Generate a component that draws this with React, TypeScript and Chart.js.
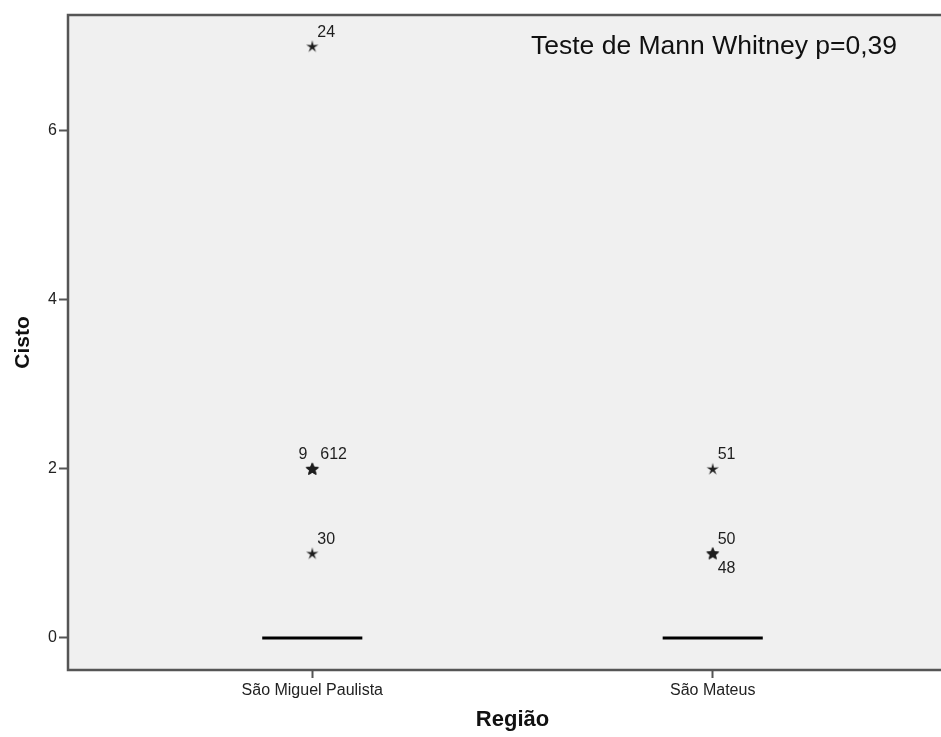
import React, { useEffect, useRef } from 'react';
import { Chart, registerables } from 'chart.js';

Chart.register(...registerables);

// ---- data ----
const categories = ['São Miguel Paulista', 'São Mateus'];
const medians = [0, 0];
const yTicks = [0, 2, 4, 6];
// extreme values: category position, value, case number
const outlierGroup = [1, 1, 1, 1, 1, 2, 2, 2];
const outlierValue = [7, 2, 2, 2, 1, 2, 1, 1];
const outlierCase = ['24', '6', '9', '12', '30', '51', '50', '48'];
const testNote = 'Teste de Mann Whitney p=0,39';
const yTitle = 'Cisto';
const xTitle = 'Região';

// ---- presentation ----
const FONT = 'Arial, "Liberation Sans", sans-serif';
const FRAME = '#555555';
const INK = '#1e1e1e';
// side of the star where each case number is written
const labelSide: Record<string, 'up' | 'left' | 'down'> = {
  '24': 'up', '6': 'up', '9': 'left', '12': 'up', '30': 'up', '51': 'up', '50': 'up', '48': 'down',
};

function makeStar(outer: number, inner: number): HTMLCanvasElement {
  const size = 16;
  const c = document.createElement('canvas');
  c.width = size;
  c.height = size;
  const g = c.getContext('2d')!;
  g.translate(size / 2, size / 2 + 0.5);
  g.beginPath();
  for (let i = 0; i < 10; i++) {
    const r = i % 2 === 0 ? outer : inner;
    const a = -Math.PI / 2 + (i * Math.PI) / 5;
    g.lineTo(r * Math.cos(a), r * Math.sin(a));
  }
  g.closePath();
  g.fillStyle = INK;
  g.fill();
  return c;
}

function stackKey(i: number) {
  return outlierGroup[i] + ':' + outlierValue[i];
}

export default function App() {
  const ref = useRef<HTMLCanvasElement>(null);

  useEffect(() => {
    if (!ref.current) return;
    const star = makeStar(6.4, 2.1);
    const boldStar = makeStar(6.8, 3.0);
    const stackCount: Record<string, number> = {};
    outlierGroup.forEach((_, i) => {
      const k = stackKey(i);
      stackCount[k] = (stackCount[k] || 0) + 1;
    });

    const marks = {
      id: 'boxMarks',
      beforeDraw(chart: any) {
        const { ctx, chartArea: a } = chart;
        ctx.save();
        ctx.fillStyle = '#f0f0f0';
        ctx.fillRect(a.left, a.top, a.right - a.left, a.bottom - a.top);
        ctx.restore();
      },
      afterDatasetsDraw(chart: any) {
        const { ctx } = chart;
        const xs = chart.scales.x;
        const ys = chart.scales.y;
        ctx.save();
        // median lines (boxes collapse onto the median)
        ctx.strokeStyle = '#000';
        ctx.lineWidth = 3;
        medians.forEach((m, i) => {
          const pos = i + 1;
          const y = ys.getPixelForValue(m);
          ctx.beginPath();
          ctx.moveTo(xs.getPixelForValue(pos - 0.125), y);
          ctx.lineTo(xs.getPixelForValue(pos + 0.125), y);
          ctx.stroke();
        });
        // case numbers beside the stars
        ctx.font = '16px ' + FONT;
        ctx.fillStyle = INK;
        ctx.textBaseline = 'middle';
        const upCursor: Record<string, number> = {};
        outlierCase.forEach((label, i) => {
          const x = xs.getPixelForValue(outlierGroup[i]);
          const y = ys.getPixelForValue(outlierValue[i]);
          const side = labelSide[label] || 'up';
          const k = stackKey(i);
          if (side === 'left') {
            ctx.textAlign = 'right';
            ctx.fillText(label, x - 5, y - 14);
          } else if (side === 'down') {
            ctx.textAlign = 'left';
            ctx.fillText(label, x + 5, y + 15);
          } else {
            const start = upCursor[k] ?? x + (stackCount[k] > 2 ? 8 : 5);
            ctx.textAlign = 'left';
            ctx.fillText(label, start, y - 14);
            upCursor[k] = start + ctx.measureText(label).width;
          }
        });
        ctx.restore();
      },
      afterDraw(chart: any) {
        const { ctx, chartArea: a } = chart;
        ctx.save();
        ctx.strokeStyle = FRAME;
        ctx.lineWidth = 2.5;
        ctx.beginPath();
        ctx.moveTo(a.right + 2, a.top);
        ctx.lineTo(a.left, a.top);
        ctx.lineTo(a.left, a.bottom);
        ctx.lineTo(a.right + 2, a.bottom);
        ctx.stroke();
        // test note
        ctx.font = '26.5px ' + FONT;
        ctx.fillStyle = '#111';
        ctx.textAlign = 'left';
        ctx.textBaseline = 'alphabetic';
        ctx.fillText(testNote, a.left + 463, a.top + 39);
        ctx.restore();
      },
    };

    const chart = new Chart(ref.current, {
      type: 'scatter',
      data: {
        datasets: [
          {
            data: outlierGroup.map((g, i) => ({ x: g, y: outlierValue[i] })),
            pointStyle: (c: any) => (stackCount[stackKey(c.dataIndex)] > 1 ? boldStar : star),
            pointRadius: 6,
            pointHoverRadius: 6,
            borderWidth: 0,
          },
        ],
      },
      options: {
        animation: false,
        responsive: false,
        devicePixelRatio: 1,
        layout: { padding: { top: 15, left: 0, right: 0, bottom: 0 } },
        plugins: { legend: { display: false }, tooltip: { enabled: false } },
        scales: {
          x: {
            type: 'linear',
            min: 0.39,
            max: 2.61,
            afterBuildTicks: (s: any) => {
              s.ticks = categories.map((_, i) => ({ value: i + 1 }));
            },
            afterFit: (s: any) => {
              s.height = 67;
            },
            ticks: {
              callback: (v: any) => categories[Math.round(Number(v)) - 1] ?? '',
              font: { family: FONT, size: 16 },
              color: '#222',
              padding: 3,
              maxRotation: 0,
              autoSkip: false,
            },
            grid: { display: true, drawOnChartArea: false, drawTicks: true, tickLength: 8, tickColor: FRAME, tickWidth: 2 },
            border: { display: false },
            title: {
              display: true,
              text: xTitle,
              font: { family: FONT, size: 22, weight: 'bold' },
              color: '#111',
              padding: { top: 0, bottom: 4 },
            },
          },
          y: {
            type: 'linear',
            min: -0.38,
            max: 7.37,
            afterBuildTicks: (s: any) => {
              s.ticks = yTicks.map((v) => ({ value: v }));
            },
            afterFit: (s: any) => {
              s.width = 68;
            },
            ticks: {
              font: { family: FONT, size: 16 },
              color: '#222',
              padding: 2,
            },
            grid: { display: true, drawOnChartArea: false, drawTicks: true, tickLength: 9, tickColor: FRAME, tickWidth: 2 },
            border: { display: false },
            title: {
              display: true,
              text: yTitle,
              font: { family: FONT, size: 21, weight: 'bold' },
              color: '#111',
              padding: { top: 11, bottom: 0 },
            },
          },
        },
      },
      plugins: [marks],
    } as any);

    return () => chart.destroy();
  }, []);

  return (
    <div style={{ position: 'absolute', left: 0, top: 0, width: 941, height: 737, overflow: 'hidden', background: '#fff' }}>
      <canvas ref={ref} width={963} height={737} style={{ display: 'block' }} />
    </div>
  );
}
